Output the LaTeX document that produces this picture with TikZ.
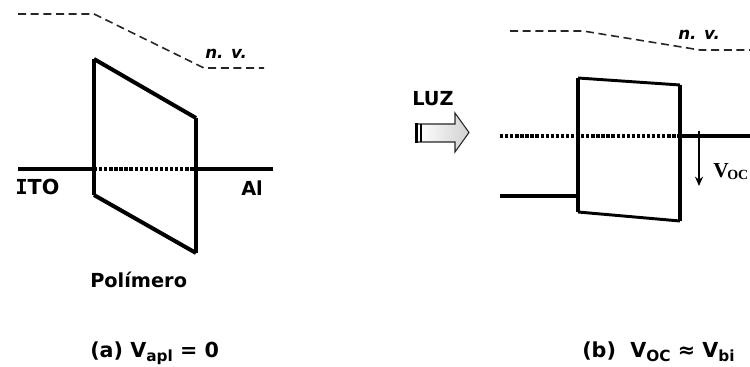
\documentclass[tikz,border=0pt]{standalone}
\usepackage{fontspec}
\setmainfont{DejaVu Sans}
\newfontfamily\serifb{Liberation Serif}
\newfontfamily\monob{DejaVu Sans Mono}
\usetikzlibrary{arrows.meta}
\tikzset{
 x=0.75pt,y=-0.75pt,
 band/.style={line width=3pt,line cap=butt,line join=miter},
 dots/.style={line width=3pt,dash pattern=on 2.5pt off 1.3pt},
 vac/.style={line width=1.2pt,dash pattern=on 6pt off 3.5pt,black!85},
 lbl/.style={font=\bfseries\fontsize{14.5}{16}\selectfont,inner sep=0pt,anchor=base west},
 captext/.style={font=\bfseries\fontsize{15.5}{17}\selectfont,inner sep=0pt,anchor=base west},
 nv/.style={font=\bfseries\itshape\fontsize{12.5}{14}\selectfont,inner sep=0pt,anchor=base west},
}
\begin{document}
\begin{tikzpicture}
\useasboundingbox (0,0) rectangle (750,367);
% left diagram
\coordinate (a1) at (94,59); \coordinate (a2) at (196,118);
\coordinate (a3) at (196,253); \coordinate (a4) at (94,195);
\draw[band] (a1) -- (a2) (a3) -- (a4);
\draw[band] (a1) -- (a4) (a2) -- (a3);
\draw[band] (18,169) -- (94,169);
\draw[band,line width=2.4pt] (196,169) -- (273,169);
\draw[dots] (94,169) -- (196,169);
\draw[vac] (18,14) -- (94,14) -- (204,68) -- (264,68);
\node[nv] (nva) at (205,59) {n. v.};
\node[lbl] (ito) at (15,195) {\fontsize{15.5}{17}\selectfont {\monob I}TO};
\node[lbl] (al) at (241,196) {Al};
\node[lbl] (pol) at (90,287) {Polímero};
\node[captext] (capa) at (90,357) {(a) V\raisebox{-3pt}{\fontsize{11.5}{12}\selectfont apl} = 0};
% arrow
\node[lbl] (luz) at (412,106) {LUZ};
\shade[left color=white,right color=black!18,draw=black!85,line width=0.8pt]
 (417,124) -- (455,124) -- (455,113) -- (469,132.5) -- (455,152) -- (455,142) -- (417,142) -- cycle;
\draw[line width=2pt] (416.5,123) -- (416.5,143);
\draw[line width=1pt] (421,124) -- (421,142);
% right diagram
\coordinate (b1) at (578,78); \coordinate (b2) at (680,85);
\coordinate (b3) at (680,221); \coordinate (b4) at (578,212);
\draw[band,line width=2.2pt] (b1) -- (b2) (b4) -- (b3);
\draw[band] (b1) -- (b4) (b2) -- (b3);
\draw[band] (500,196) -- (578,196);
\draw[band] (680,136) -- (750,136);
\draw[dots] (500,136) -- (680,136);
\draw[vac] (510,31) -- (583,31) -- (700,50) -- (750,50);
\node[nv] (nvb) at (678,40) {n. v.};
\coordinate (vtop) at (699,131); \coordinate (vbot) at (699,186);
\draw[line width=1.1pt,-{Stealth[length=7pt,width=6pt]}] (vtop) -- (vbot);
\node[inner sep=0pt,anchor=base west,font=\serifb\bfseries\fontsize{16}{17}\selectfont] (voc) at (713,178) {V\kern-1pt\raisebox{-1pt}{\fontsize{10.5}{12}\selectfont OC}};
\node[captext] (capb) at (582,357) {(b)\ \ V\raisebox{-3pt}{\fontsize{11.5}{12}\selectfont OC} ≈ V\raisebox{-3pt}{\fontsize{11.5}{12}\selectfont bi}};
\end{tikzpicture}
\end{document}
